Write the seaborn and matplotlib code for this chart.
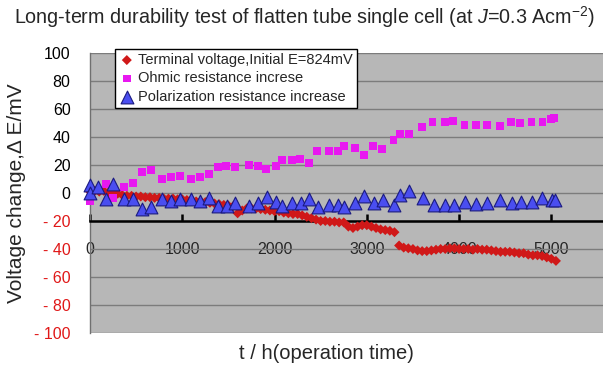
import numpy as np
import pandas as pd
import matplotlib
matplotlib.use("Agg")
import matplotlib.pyplot as plt
import seaborn as sns

# ---------------- data ----------------
term_t = [0, 50, 100, 150, 200, 250, 300, 350, 400, 450, 500, 550, 600, 650, 700,
          750, 800, 850, 900, 950, 1000, 1050, 1100, 1150, 1200, 1250, 1300, 1350,
          1400, 1450, 1500, 1550, 1600, 1650, 1700, 1750, 1800, 1850, 1900, 1950,
          2000, 2050, 2100, 2150, 2200, 2250, 2300, 2350, 2400, 2450, 2500, 2550,
          2600, 2650, 2700, 2750, 2800, 2850, 2900, 2950, 3000, 3050, 3100, 3150,
          3200, 3250, 3300, 3350, 3400, 3450, 3500, 3550, 3600, 3650, 3700, 3750,
          3800, 3850, 3900, 3950, 4000, 4050, 4100, 4150, 4200, 4250, 4300, 4350,
          4400, 4450, 4500, 4550, 4600, 4650, 4700, 4750, 4800, 4850, 4900, 4950,
          5000, 5050]
term_v = [1.0, 1.5, 1.0, 1.5, 0.5, 0.0, -0.5, -1.5, -2.0, -2.0, -2.5, -2.5, -3.0,
          -3.0, -3.5, -3.5, -4.0, -4.0, -4.0, -4.5, -4.5, -5.0, -5.0, -6.0, -6.0,
          -6.5, -7.0, -7.5, -8.0, -8.5, -9.0, -9.5, -14.5, -12.5, -11.0, -11.0,
          -11.0, -11.5, -12.0, -12.5, -13.0, -13.0, -14.0, -14.5, -15.0, -15.0,
          -16.0, -17.0, -18.0, -19.0, -20.0, -20.0, -20.5, -20.5, -21.0, -21.0,
          -24.0, -25.0, -24.0, -23.0, -23.0, -24.0, -25.0, -26.0, -26.5, -27.0,
          -28.0, -37.5, -39.0, -39.5, -40.0, -41.0, -41.5, -41.5, -41.0, -40.5,
          -40.0, -40.0, -39.5, -39.5, -40.0, -40.0, -40.0, -40.5, -40.0, -40.5,
          -40.5, -41.0, -41.5, -42.0, -42.0, -42.0, -42.5, -43.0, -43.0, -44.0,
          -44.5, -44.5, -45.0, -46.0, -47.0, -48.5]

ohm_t = [0, 170, 253, 368, 462, 560, 657, 780, 878, 971, 1094, 1188, 1289, 1383,
         1477, 1571, 1723, 1817, 1911, 2012, 2084, 2185, 2279, 2370, 2463, 2590,
         2687, 2752, 2875, 2969, 3070, 3164, 3290, 3362, 3456, 3600, 3712, 3843,
         3936, 4059, 4182, 4301, 4442, 4564, 4662, 4785, 4904, 4994, 5027]
ohm_v = [-5.7, 6.2, -3.6, 4.3, 7.4, 15.2, 16.6, 10.2, 11.7, 11.9, 10.2, 11.7, 13.6,
         18.6, 19.3, 18.6, 20.2, 19.3, 17.1, 19.3, 23.6, 23.6, 24.0, 21.7, 30.2,
         30.2, 30.2, 33.6, 32.1, 27.1, 33.3, 31.2, 38.1, 41.9, 41.9, 46.9, 50.9,
         50.9, 51.6, 48.6, 48.6, 48.6, 48.1, 50.9, 49.8, 50.9, 50.9, 52.9, 53.6]

pol_t = [0, 0, 83, 173, 253, 372, 469, 567, 661, 784, 878, 975, 1094, 1192, 1289,
         1383, 1480, 1571, 1723, 1817, 1915, 2012, 2084, 2185, 2283, 2373, 2467,
         2590, 2690, 2755, 2875, 2972, 3077, 3174, 3297, 3362, 3459, 3604, 3727,
         3846, 3944, 4063, 4182, 4305, 4442, 4572, 4666, 4789, 4904, 5005, 5038]
pol_v = [5.7, 0.0, 4.5, -4.5, 6.2, -4.5, -4.5, -11.7, -10.2, -4.3, -5.5, -4.3, -4.3,
         -5.5, -3.8, -9.3, -9.3, -6.9, -9.3, -6.9, -3.1, -6.4, -9.3, -6.9, -6.9,
         -4.1, -10.2, -8.8, -8.8, -10.2, -6.9, -2.1, -6.9, -5.0, -8.8, -1.7, 1.2,
         -3.6, -8.6, -8.6, -8.8, -6.2, -8.1, -7.1, -5.0, -7.4, -6.2, -6.2, -3.8,
         -5.0, -5.0]

labels = ["Terminal voltage,Initial E=824mV",
          "Ohmic resistance increse",
          "Polarization resistance increase"]
x_ticks = [0, 1000, 2000, 3000, 4000, 5000]
y_ticks = [100, 80, 60, 40, 20, 0, -20, -40, -60, -80, -100]

# ---------------- style ----------------
sns.set_style("white")
plt.rcParams["font.family"] = ["Liberation Sans", "DejaVu Sans"]
plt.rcParams["mathtext.fontset"] = "custom"
plt.rcParams["mathtext.rm"] = "Liberation Sans"
plt.rcParams["mathtext.it"] = "Liberation Sans:italic"

fig = plt.figure(figsize=(6.03, 3.72), dpi=100)
ax = fig.add_axes([90 / 603, 39 / 372, 513 / 603, 280 / 372])
ax.set_facecolor("#b7b7b7")

df_t = pd.DataFrame({"t": term_t, "v": term_v})
df_o = pd.DataFrame({"t": ohm_t, "v": ohm_v})
df_p = pd.DataFrame({"t": pol_t, "v": pol_v})

sns.scatterplot(data=df_t, x="t", y="v", ax=ax, marker="D", s=26,
                color="#d01818", edgecolor="none", label=labels[0], zorder=3)
sns.scatterplot(data=df_o, x="t", y="v", ax=ax, marker="s", s=32,
                color="#e818f0", edgecolor="none", label=labels[1], zorder=3)
sns.scatterplot(data=df_p, x="t", y="v", ax=ax, marker="^", s=85,
                color="#4a4ef0", edgecolor="#1a1a80", linewidth=0.8,
                label=labels[2], zorder=4)
for c in ax.collections:
    c.set_clip_on(False)

ax.set_xlim(0, 5560)
ax.set_ylim(-100, 100)

# grid
ax.set_yticks(y_ticks)
ax.yaxis.grid(True, color="#7c7c7c", linewidth=1.0)
ax.xaxis.grid(False)
ax.set_axisbelow(True)

ylabels = []
for v in y_ticks:
    ylabels.append(str(v) if v >= 0 else "- " + str(-v))
ax.set_yticklabels(ylabels, fontsize=11.5)
for lab, v in zip(ax.get_yticklabels(), y_ticks):
    lab.set_color("black" if v >= 0 else "#e01818")
ax.tick_params(axis="y", length=0, pad=14)

# x axis at -20
ax.spines["bottom"].set_position(("data", -20))
ax.spines["bottom"].set_color("black")
ax.spines["bottom"].set_linewidth(1.8)
ax.spines["bottom"].set_zorder(2.5)
ax.spines["left"].set_color("#707070")
ax.spines["left"].set_linewidth(1.0)
ax.spines["top"].set_visible(False)
ax.spines["right"].set_visible(False)
ax.set_xticks(x_ticks)
ax.set_xticklabels([str(v) for v in x_ticks], fontsize=11.5)
ax.tick_params(axis="x", direction="in", length=5, width=1.8, color="black",
               pad=15, bottom=True)

ax.set_xlabel("t / h(operation time)", fontsize=14.5)
ax.xaxis.set_label_coords(0.46, -0.04)
ax.set_ylabel("Voltage change,\u0394 E/mV", fontsize=15)
ax.yaxis.set_label_coords(-0.125, 0.5)

leg = ax.legend(loc="upper left", bbox_to_anchor=(0.049, 1.016), borderaxespad=0,
                fontsize=10.5, frameon=True, fancybox=False, edgecolor="black",
                framealpha=1, handletextpad=0.25, borderpad=0.3,
                labelspacing=0.3, handlelength=1.0)
leg.get_frame().set_linewidth(1.0)

fig.text(0.505, 1 - 17 / 372,
         r"Long-term durability test of flatten tube single cell (at $\mathit{J}$=0.3 Acm$^{\mathrm{-2}}$)",
         ha="center", va="center", fontsize=14.2)

fig.savefig("out.png", dpi=100)
